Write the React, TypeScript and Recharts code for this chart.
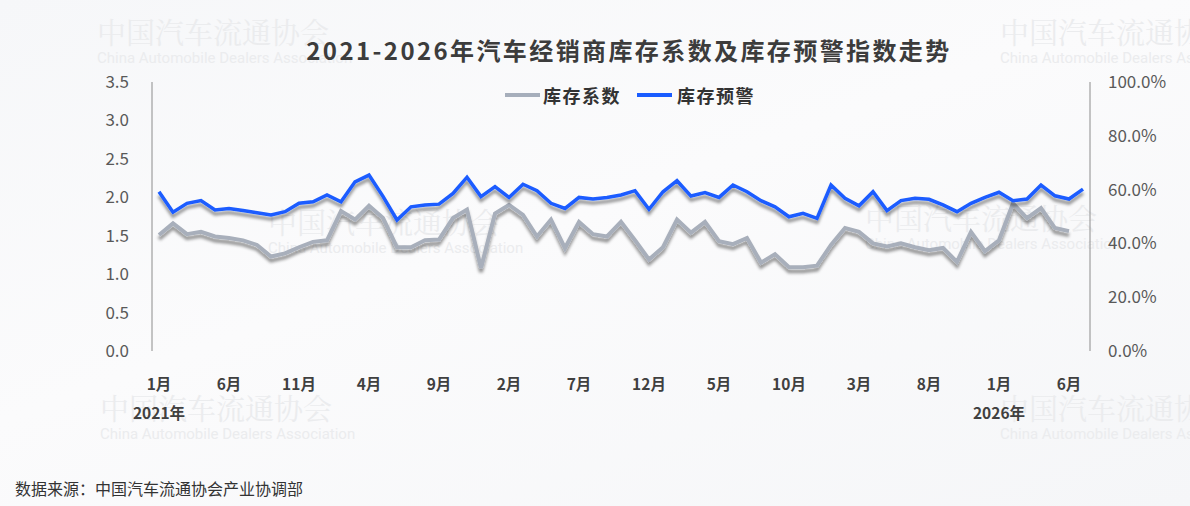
import React from "react"
import { LineChart, Line, XAxis, YAxis } from "recharts"

// 2021-01 .. 2026-07, one category per month
const years = [2021, 2022, 2023, 2024, 2025, 2026]
const months: string[] = years.flatMap((y) =>
  Array.from({ length: 12 }, (_, m) => `${y}-${String(m + 1).padStart(2, "0")}`)
).slice(0, 67)

// 库存系数 (left axis), through 2026-06
const inventoryCoef = [
  1.51, 1.66, 1.52, 1.55, 1.49, 1.47, 1.44, 1.38, 1.23, 1.27,
  1.35, 1.42, 1.44, 1.82, 1.71, 1.89, 1.73, 1.35, 1.35, 1.44,
  1.45, 1.73, 1.84, 1.08, 1.79, 1.9, 1.77, 1.49, 1.71, 1.34,
  1.68, 1.52, 1.49, 1.68, 1.44, 1.19, 1.35, 1.71, 1.54, 1.68,
  1.43, 1.39, 1.47, 1.15, 1.26, 1.09, 1.09, 1.11, 1.38, 1.6,
  1.55, 1.4, 1.36, 1.4, 1.35, 1.31, 1.34, 1.16, 1.55, 1.3,
  1.44, 1.92, 1.73, 1.86, 1.6, 1.56,
]

// 库存预警指数 % (right axis), through 2026-07
const warningIndex = [
  59.2, 51.6, 54.9, 55.9, 52.4, 53.0, 52.2, 51.4, 50.6, 51.8,
  54.9, 55.5, 58.0, 55.5, 62.9, 65.4, 57.5, 48.7, 53.6, 54.3,
  54.6, 58.6, 64.6, 57.4, 61.1, 57.1, 62.0, 59.6, 54.9, 53.0,
  57.1, 56.5, 57.1, 58.0, 59.6, 52.7, 59.2, 63.3, 57.6, 58.9,
  57.1, 61.7, 59.2, 55.9, 53.6, 49.9, 51.2, 49.3, 61.7, 56.8,
  54.0, 59.2, 52.2, 55.9, 56.8, 56.4, 54.3, 51.8, 54.9, 57.1,
  59.0, 55.9, 56.5, 61.7, 57.7, 56.5, 60.2,
]

const leftTicks = [0, 0.5, 1, 1.5, 2, 2.5, 3, 3.5]
const rightTicks = [0, 20, 40, 60, 80, 100]
const labelIdx = [0, 5, 10, 15, 20, 25, 30, 35, 40, 45, 50, 55, 60, 65]
const yearLabels: Record<string, string> = { "2021-01": "2021年", "2026-01": "2026年" }

const data = months.map((m, i) => ({
  idx: i,
  month: m,
  coef: inventoryCoef[i],
  warn: warningIndex[i],
}))

const boundaries = Array.from({ length: months.length + 1 }, (_, k) => k - 0.5)

const FONT = '"Noto Sans CJK SC", "Noto Sans", sans-serif'

const MonthTick = (props: any) => {
  const { x, y, payload } = props
  const m = months[payload.value]
  if (!m) return null
  const mon = Number(m.slice(5))
  return (
    <g>
      <text x={x} y={y + 27} textAnchor="middle" dominantBaseline="middle"
        fontSize={15.5} fontWeight={700} fill="#404040" fontFamily={FONT}>
        {mon}月
      </text>
      {yearLabels[m] && (
        <text x={x} y={y + 56} textAnchor="middle" dominantBaseline="middle"
          fontSize={15.5} fontWeight={700} fill="#404040" fontFamily={FONT}>
          {yearLabels[m]}
        </text>
      )}
    </g>
  )
}

const marks = [
  { left: 97, top: 14 },
  { left: 1000, top: 14 },
  { left: 268, top: 204 },
  { left: 865, top: 200 },
  { left: 100, top: 390 },
  { left: 1000, top: 390 },
]

export default function App() {
  return (
    <div style={{ position: "absolute", left: 0, top: 0, width: 1190, height: 506, overflow: "hidden",
      background: "linear-gradient(160deg, #f6f7f9 0%, #fbfbfc 45%, #f5f6f8 100%)", fontFamily: FONT }}>
      {marks.map((p, i) => (
        <div key={i} style={{ position: "absolute", left: p.left, top: p.top, color: "#ebecee", whiteSpace: "nowrap" }}>
          <div style={{ fontSize: 29, fontFamily: '"Noto Serif CJK SC", "Noto Sans CJK SC", serif', lineHeight: "36px" }}>中国汽车流通协会</div>
          <div style={{ fontSize: 15, fontFamily: "Roboto, sans-serif", lineHeight: "16px" }}>China Automobile Dealers Association</div>
        </div>
      ))}
      <div style={{ position: "absolute", left: 0, width: 1258, top: 32, textAlign: "center", fontSize: 24,
        fontWeight: 700, color: "#3c3c3c", letterSpacing: 2.4 }}>
        2021-2026年汽车经销商库存系数及库存预警指数走势
      </div>
      <div style={{ position: "absolute", left: 505, top: 82, display: "flex", alignItems: "center",
        fontSize: 18, fontWeight: 700, color: "#333", letterSpacing: 1.5 }}>
        <span style={{ width: 35, height: 4, background: "#a6aebb", display: "inline-block", marginRight: 3 }} />
        <span>库存系数</span>
        <span style={{ width: 35, height: 4, background: "#1a5cff", display: "inline-block", marginLeft: 16, marginRight: 5 }} />
        <span>库存预警</span>
      </div>
      <div style={{ position: "absolute", left: 15, top: 476, fontSize: 16, color: "#333" }}>
        数据来源：中国汽车流通协会产业协调部
      </div>
      <div style={{ position: "absolute", left: 0, top: 0 }}>
        <LineChart width={1190} height={506} data={data}
          margin={{ top: 82, right: 0, left: 0, bottom: 75 }}>
          <defs>
            <filter id="lineShadow" x="-5%" y="-50%" width="110%" height="200%">
              <feDropShadow dx="0" dy="4" stdDeviation="1.8" floodColor="#000" floodOpacity="0.4" />
            </filter>
          </defs>
          <XAxis xAxisId="main" type="number" dataKey="idx" domain={[-0.5, months.length - 0.5]}
            ticks={boundaries} height={0} tick={false} tickSize={5}
            stroke="#8c8c8c" axisLine={{ stroke: "#8c8c8c" }} tickLine={{ stroke: "#8c8c8c" }} />
          <XAxis xAxisId="labels" type="number" dataKey="idx" domain={[-0.5, months.length - 0.5]}
            ticks={labelIdx} height={80} axisLine={false} tickLine={false} tick={<MonthTick />} interval={0} />
          <YAxis yAxisId="left" domain={[0, 3.5]} ticks={leftTicks} width={152}
            axisLine={{ stroke: "#8c8c8c" }} tickLine={false} tickSize={0} tickMargin={23}
            tickFormatter={(v) => v.toFixed(1)}
            tick={{ fill: "#595959", fontSize: 17, fontFamily: FONT }} />
          <YAxis yAxisId="right" orientation="right" domain={[0, 100]} ticks={rightTicks} width={100}
            axisLine={{ stroke: "#8c8c8c" }} tickLine={false} tickSize={0} tickMargin={18}
            tickFormatter={(v) => `${v.toFixed(1)}%`}
            tick={{ fill: "#595959", fontSize: 17, fontFamily: FONT }} />
          <Line xAxisId="main" yAxisId="left" type="linear" dataKey="coef" stroke="#a8afbb"
            strokeWidth={4} dot={false} isAnimationActive={false} filter="url(#lineShadow)" />
          <Line xAxisId="main" yAxisId="right" type="linear" dataKey="warn" stroke="#1a5cff"
            strokeWidth={3.5} dot={false} isAnimationActive={false} filter="url(#lineShadow)" />
        </LineChart>
      </div>
    </div>
  )
}
